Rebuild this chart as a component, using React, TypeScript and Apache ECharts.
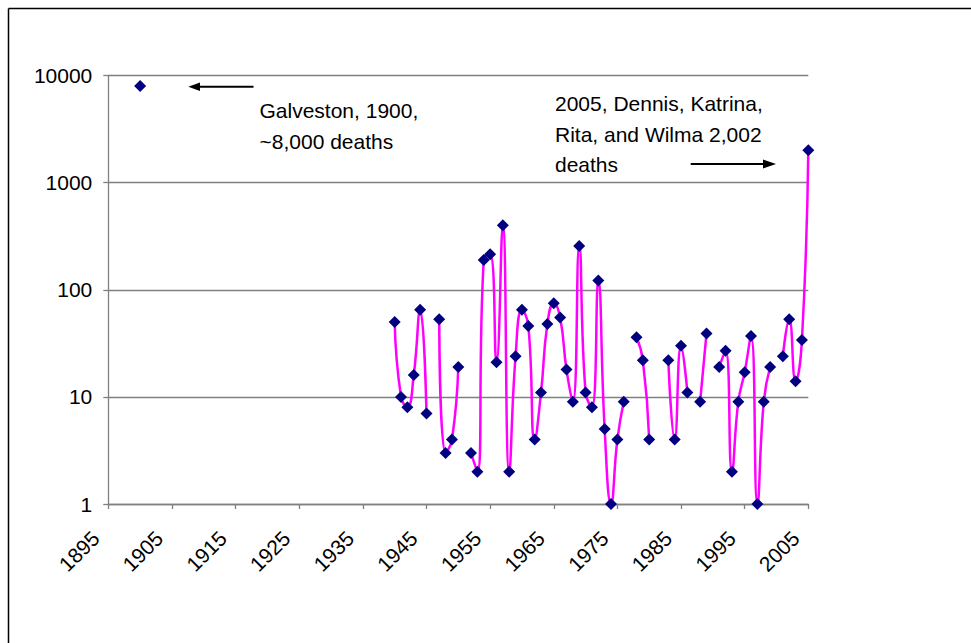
import React, { useEffect, useRef } from "react";
import * as echarts from "echarts";

// Hurricane deaths per year (null = no plotted value, breaks the line)
const years: number[] = [
  1900, 1901,
  1940, 1941, 1942, 1943, 1944, 1945, 1946, 1947, 1948, 1949,
  1950, 1951, 1952, 1953, 1954, 1955, 1956, 1957, 1958, 1959,
  1960, 1961, 1962, 1963, 1964, 1965, 1966, 1967, 1968, 1969,
  1970, 1971, 1972, 1973, 1974, 1975, 1976, 1977, 1978, 1979,
  1980, 1981, 1982, 1983, 1984, 1985, 1986, 1987, 1988, 1989,
  1990, 1991, 1992, 1993, 1994, 1995, 1996, 1997, 1998, 1999,
  2000, 2001, 2002, 2003, 2004, 2005,
];
const deaths: (number | null)[] = [
  8000, null,
  50, 10, 8, 16, 65, 7, null, 53, 3, 4,
  19, null, 3, 2, 190, 215, 21, 400, 2, 24,
  65, 46, 4, 11, 48, 75, 55, 18, 9, 256,
  11, 8, 122, 5, 1, 4, 9, null, 36, 22,
  4, null, null, 22, 4, 30, 11, null, 9, 39,
  null, 19, 27, 2, 9, 17, 37, 1, 9, 19,
  null, 24, 53, 14, 34, 2002,
];

const xMin = 1895;
const xMax = 2005;
const xStep = 10;
const yTicks = [1, 10, 100, 1000, 10000];

const galvestonNote = ["Galveston, 1900,", "~8,000 deaths"];
const note2005 = ["2005, Dennis, Katrina,", "Rita, and Wilma 2,002", "deaths"];

const FONT = 'Arial, "Liberation Sans", sans-serif';
const FS = 21;

export default function App() {
  const ref = useRef<HTMLDivElement>(null);

  useEffect(() => {
    if (!ref.current) return;
    const chart = echarts.init(ref.current, undefined, { renderer: "svg" });
    const data = years.map((yr, i) => [yr, deaths[i] == null ? "-" : deaths[i]]);

    const textEl = (s: string, x: number, y: number) => ({
      type: "text",
      x,
      y,
      style: {
        text: s,
        fill: "#000",
        font: `${FS}px ${FONT}`,
        textAlign: "left",
        textVerticalAlign: "middle",
      },
    });

    chart.setOption({
      animation: false,
      backgroundColor: "#fff",
      grid: { left: 108.3, right: 162.7, top: 75.5, bottom: 139, containLabel: false },
      xAxis: {
        type: "value",
        min: xMin,
        max: xMax,
        interval: xStep,
        splitLine: { show: false },
        axisLine: { show: true, lineStyle: { color: "#808080", width: 1.3 } },
        axisTick: { show: true, inside: false, length: 5, lineStyle: { color: "#808080", width: 1.3 } },
        axisLabel: {
          rotate: 45,
          margin: 18,
          padding: [0, 18, 0, 0],
          color: "#000",
          fontSize: FS,
          fontFamily: FONT,
          showMinLabel: true,
          showMaxLabel: true,
          formatter: (v: number) => String(Math.round(v)),
        },
      },
      yAxis: {
        type: "log",
        logBase: 10,
        min: yTicks[0],
        max: yTicks[yTicks.length - 1],
        axisLine: { show: true, lineStyle: { color: "#808080", width: 1.3 } },
        axisTick: { show: true, inside: false, length: 5, lineStyle: { color: "#808080", width: 1.3 } },
        splitLine: { show: true, lineStyle: { color: "#808080", width: 1.3 } },
        minorTick: { show: false },
        axisLabel: {
          margin: 16,
          color: "#000",
          fontSize: FS,
          fontFamily: FONT,
          formatter: (v: number) => String(Math.round(v)),
        },
      },
      series: [
        {
          type: "line",
          data,
          smooth: 0.5,
          connectNulls: false,
          symbol: "diamond",
          symbolSize: 12,
          showAllSymbol: true,
          itemStyle: { color: "#000080" },
          lineStyle: { color: "#FF00FF", width: 2.5 },
          z: 3,
        },
      ],
      graphic: [
        // frame (top & left edges visible)
        { type: "line", shape: { x1: 8.5, y1: 8.5, x2: 971, y2: 8.5 }, style: { stroke: "#000", lineWidth: 1.5 } },
        { type: "line", shape: { x1: 8.5, y1: 8.5, x2: 8.5, y2: 643 }, style: { stroke: "#000", lineWidth: 1.5 } },
        // Galveston arrow (pointing left)
        { type: "line", shape: { x1: 198, y1: 86.7, x2: 253.5, y2: 86.7 }, style: { stroke: "#000", lineWidth: 2 } },
        { type: "polygon", shape: { points: [[188.3, 86.7], [200, 82.5], [200, 90.9]] }, style: { fill: "#000" } },
        textEl(galvestonNote[0], 259.5, 110),
        textEl(galvestonNote[1], 259.5, 141),
        // 2005 arrow (pointing right)
        { type: "line", shape: { x1: 690.7, y1: 164, x2: 765, y2: 164 }, style: { stroke: "#000", lineWidth: 2 } },
        { type: "polygon", shape: { points: [[776, 164], [763, 159.5], [763, 168.5]] }, style: { fill: "#000" } },
        textEl(note2005[0], 555, 103.5),
        textEl(note2005[1], 555, 134.5),
        textEl(note2005[2], 555, 164),
      ],
    });

    return () => chart.dispose();
  }, []);

  return (
    <div
      ref={ref}
      style={{ position: "absolute", left: 0, top: 0, width: 971, height: 643 }}
    />
  );
}
